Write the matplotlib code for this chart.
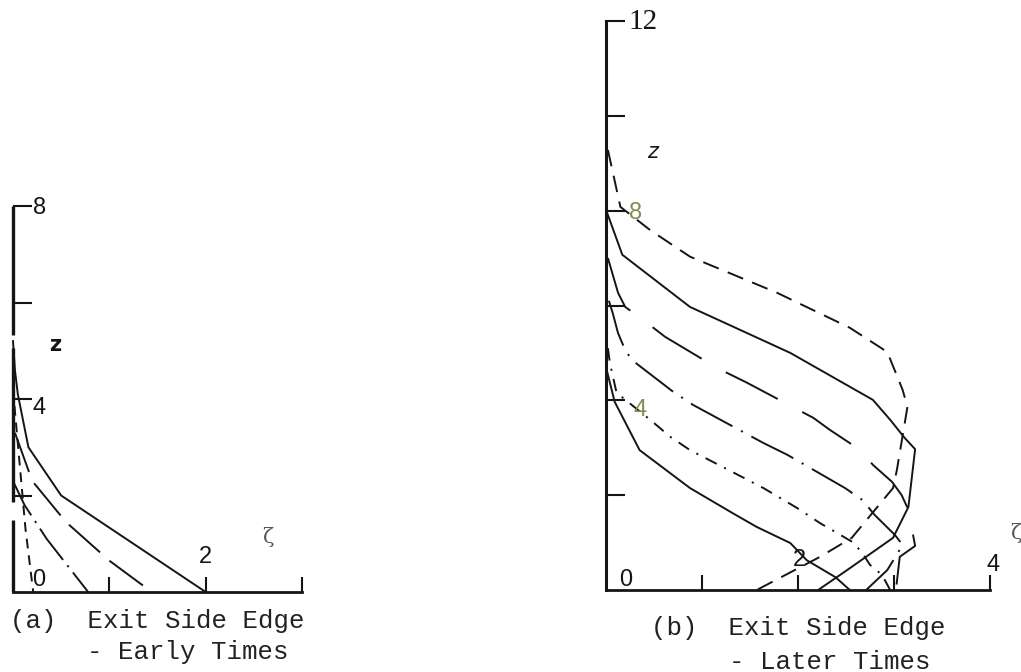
import matplotlib
matplotlib.use("Agg")
import matplotlib.pyplot as plt

plt.rcParams["lines.scale_dashes"] = False

W, H = 1021, 672

# ---------------- panel (a): exit side edge, early times ----------------
a_solid_zeta = [0.0, 0.02, 0.05, 0.16, 0.50, 2.00]
a_solid_z = [5.2, 4.6, 4.1, 3.0, 2.0, 0.0]

a_longdash_zeta = [0.02, 0.20, 0.55, 1.00, 1.44]
a_longdash_z = [3.3, 2.3, 1.45, 0.65, 0.0]

a_dashdot_zeta = [0.0, 0.12, 0.35, 0.78]
a_dashdot_z = [2.3, 1.8, 1.1, 0.0]

a_shortdash_zeta = [0.0, 0.04, 0.13, 0.21]
a_shortdash_z = [4.2, 3.3, 1.3, 0.0]

# ---------------- panel (b): exit side edge, later times ----------------
b_shortdash_zeta = [0.02, 0.15, 0.46, 0.875, 1.78, 2.54, 2.93, 3.09, 3.14, 3.03, 2.99, 2.56, 2.23, 1.57]
b_shortdash_z = [9.28, 8.08, 7.59, 7.03, 6.27, 5.53, 5.02, 4.22, 3.86, 2.53, 2.15, 1.10, 0.70, 0.0]

b_solid_up_zeta = [0.0, 0.17, 0.875, 1.92, 2.78, 2.96, 3.11, 3.22, 3.15, 2.99, 2.54, 2.21]
b_solid_up_z = [8.02, 7.07, 5.97, 5.0, 4.01, 3.59, 3.21, 2.97, 1.75, 1.10, 0.46, 0.0]

b_longdash_zeta = [0.02, 0.125, 0.2, 0.385, 0.615, 1.16, 1.47, 2.16, 2.33, 2.65, 2.78, 2.98, 3.08, 3.15, 3.22, 3.06, 3.02]
b_longdash_z = [7.0, 6.27, 5.97, 5.7, 5.34, 4.68, 4.37, 3.63, 3.38, 2.95, 2.64, 2.28, 2.0, 1.69, 0.93, 0.70, 0.0]

b_dashdot_zeta = [0.03, 0.07, 0.125, 0.2, 0.27, 0.70, 0.91, 1.64, 1.89, 2.49, 2.67, 2.80, 3.01, 3.09, 2.93, 2.71]
b_dashdot_z = [6.1, 5.84, 5.42, 5.06, 4.85, 4.18, 3.90, 3.10, 2.85, 2.15, 1.90, 1.58, 1.16, 0.95, 0.42, 0.0]

b_finedash_zeta = [0.02, 0.04, 0.11, 0.46, 0.67, 0.875, 1.22, 1.64, 1.99, 2.23, 2.57, 2.67, 2.75, 2.875, 2.96]
b_finedash_z = [5.1, 4.79, 4.16, 3.59, 3.23, 2.95, 2.59, 2.15, 1.73, 1.41, 1.01, 0.78, 0.53, 0.32, 0.0]

b_solid_low_zeta = [0.0, 0.09, 0.35, 0.875, 1.32, 1.57, 1.92, 2.09, 2.39, 2.54]
b_solid_low_z = [4.7, 3.97, 2.95, 2.15, 1.62, 1.33, 0.99, 0.63, 0.27, 0.0]

# axis ranges and ticks
a_xlim, a_ylim = (0, 3), (0, 8)
b_xlim, b_ylim = (0, 4), (0, 12)
a_xticks, a_yticks = [1, 2, 3], [2, 4, 6, 8]
b_xticks, b_yticks = [1, 2, 3, 4], [2, 4, 6, 8, 10, 12]

INK = "#151515"
LW = 1.4

fig = plt.figure(figsize=(W / 100, H / 100), dpi=100)


def place(left, right, top, bottom):
    return fig.add_axes([left / W, 1 - bottom / H, (right - left) / W, (bottom - top) / H])


def style_axes(ax, xlim, ylim, xticks, yticks, draw_left=True):
    ax.set_xlim(*xlim)
    ax.set_ylim(*ylim)
    ax.patch.set_alpha(0)
    for s in ("top", "right"):
        ax.spines[s].set_visible(False)
    ax.spines["bottom"].set_linewidth(2.0)
    ax.spines["bottom"].set_color(INK)
    ax.spines["left"].set_linewidth(2.2)
    ax.spines["left"].set_color(INK)
    ax.spines["left"].set_visible(draw_left)
    ax.set_xticks(xticks)
    ax.set_yticks(yticks)
    ax.tick_params(axis="x", direction="in", length=11, width=1.5, color=INK,
                   labelbottom=False)
    ax.tick_params(axis="y", direction="in", length=14, width=1.5, color=INK,
                   labelleft=False)


# ---------------- panel (a) ----------------
ax_a = place(13, 302, 206, 592)
style_axes(ax_a, a_xlim, a_ylim, a_xticks, a_yticks, draw_left=False)
# vertical axis drawn in pieces (broken where the print is faint)
for z0, z1 in [(0.0, 1.49), (1.87, 5.06), (5.33, 8.0)]:
    ax_a.plot([0, 0], [z0, z1], color=INK, lw=2.4, solid_capstyle="butt", clip_on=False)

ax_a.plot(a_solid_zeta, a_solid_z, color=INK, lw=LW, clip_on=False)
ax_a.plot(a_longdash_zeta, a_longdash_z, color=INK, lw=LW, dashes=(30, 9), clip_on=False)
ax_a.plot(a_dashdot_zeta, a_dashdot_z, color=INK, lw=LW, dashes=(28, 5, 1.5, 5), clip_on=False)
ax_a.plot(a_shortdash_zeta, a_shortdash_z, color=INK, lw=LW, dashes=(7, 5), clip_on=False)

num = dict(family="Liberation Sans", fontsize=17, color=INK, clip_on=False)
ax_a.text(0.21, 7.96, "8", ha="left", va="center", **num)
ax_a.text(0.20, 3.81, "4", ha="left", va="center", **num)
ax_a.text(0.27, 0.25, "0", ha="center", va="center", **num)
ax_a.text(2.0, 0.73, "2", ha="center", va="center", **num)
ax_a.text(0.44, 5.12, "z", ha="center", va="center", family="DejaVu Sans",
          fontsize=15, fontweight="bold", color=INK)
ax_a.text(2.64, 1.14, "ζ", ha="center", va="center", family="DejaVu Serif",
          fontsize=15, color="#555555")

# ---------------- panel (b) ----------------
ax_b = place(606, 990, 21, 590)
style_axes(ax_b, b_xlim, b_ylim, b_xticks, b_yticks)

ax_b.plot(b_shortdash_zeta, b_shortdash_z, color=INK, lw=LW, dashes=(12, 7), clip_on=False)
ax_b.plot(b_solid_up_zeta, b_solid_up_z, color=INK, lw=LW, clip_on=False)
ax_b.plot(b_longdash_zeta, b_longdash_z, color=INK, lw=LW, dashes=(42, 20), clip_on=False)
ax_b.plot(b_dashdot_zeta, b_dashdot_z, color=INK, lw=LW, dashes=(34, 7, 1.5, 7), clip_on=False)
ax_b.plot(b_finedash_zeta, b_finedash_z, color=INK, lw=LW, dashes=(9, 6, 1.5, 6), clip_on=False)
ax_b.plot(b_solid_low_zeta, b_solid_low_z, color=INK, lw=LW, clip_on=False)

ax_b.text(0.23, 11.98, "12", ha="left", va="center", family="Liberation Serif",
          fontsize=21, color=INK)
ax_b.text(0.31, 7.95, "8", ha="center", va="center", family="Liberation Sans",
          fontsize=17, color="#7f8f4f")
ax_b.text(0.35, 3.80, "4", ha="center", va="center", family="Liberation Sans",
          fontsize=17, color="#7f8f4f")
ax_b.text(0.20, 0.21, "0", ha="center", va="center", **num)
ax_b.text(2.02, 0.63, "2", ha="center", va="center", **num)
ax_b.text(4.03, 0.53, "4", ha="center", va="center", **num)
ax_b.text(0.48, 9.24, "z", ha="center", va="center", family="DejaVu Sans",
          fontsize=15, fontstyle="italic", color=INK)
ax_b.text(4.27, 1.2, "ζ", ha="center", va="center", family="DejaVu Serif",
          fontsize=15, color="#555555", clip_on=False)

# ---------------- captions ----------------
cap = dict(family="Liberation Mono", fontsize=18.5, color="#222222", va="center", ha="left")
fig.text(10 / W, 1 - 621 / H, "(a)  Exit Side Edge", **cap)
fig.text(87 / W, 1 - 652 / H, "- Early Times", **cap)
fig.text(651 / W, 1 - 628 / H, "(b)  Exit Side Edge", **cap)
fig.text(729 / W, 1 - 662 / H, "- Later Times", **cap)

fig.savefig("out.png", dpi=100, facecolor="white")
